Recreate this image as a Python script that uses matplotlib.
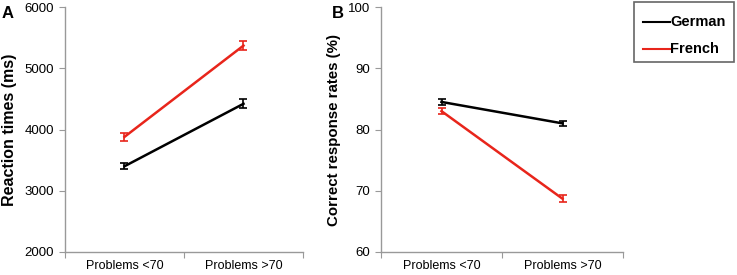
import matplotlib
matplotlib.use("Agg")
import matplotlib.pyplot as plt
from matplotlib.lines import Line2D
from matplotlib.patches import Rectangle

plt.rcParams['font.family'] = ['Liberation Sans', 'DejaVu Sans']

categories = ["Problems <70", "Problems >70"]
series_names = ["German", "French"]
colors = ["#000000", "#e8251b"]

rt_german = [3400, 4420]
rt_german_err = [50, 75]
rt_french = [3880, 5370]
rt_french_err = [60, 75]

acc_german = [84.5, 81.0]
acc_german_err = [0.5, 0.4]
acc_french = [83.0, 68.7]
acc_french_err = [0.5, 0.6]

fig = plt.figure(figsize=(7.37, 2.75), dpi=100)
W, H = 737, 275
axA = fig.add_axes([65/W, 1-252/H, (303-65)/W, (252-7)/H])
axB = fig.add_axes([381/W, 1-252/H, (623-381)/W, (252-7)/H])

xpos = [0.5, 1.5]

def style(ax, ylim, yticks, ylabel, lsize):
    ax.set_xlim(0, 2)
    ax.set_ylim(*ylim)
    ax.set_yticks(yticks)
    ax.set_xticks([0, 1, 2])
    ax.set_xticklabels([])
    ax.set_xticks(xpos, minor=True)
    ax.set_xticklabels(categories, minor=True, fontsize=9)
    ax.tick_params(axis='x', which='minor', length=0, pad=6)
    ax.tick_params(axis='x', which='major', length=4, color='#999999', direction='out')
    ax.tick_params(axis='y', length=4, color='#999999', labelsize=9.5, pad=4)
    for s in ['top', 'right']:
        ax.spines[s].set_visible(False)
    for s in ['left', 'bottom']:
        ax.spines[s].set_color('#999999')
        ax.spines[s].set_linewidth(1)
    ax.set_ylabel(ylabel, fontsize=lsize, fontweight='bold', labelpad=5)

for vals, errs, c in [(rt_german, rt_german_err, colors[0]),
                      (rt_french, rt_french_err, colors[1])]:
    axA.errorbar(xpos, vals, yerr=errs, color=c, lw=1.8, capsize=3, elinewidth=1.2, capthick=1.2)
for vals, errs, c in [(acc_german, acc_german_err, colors[0]),
                      (acc_french, acc_french_err, colors[1])]:
    axB.errorbar(xpos, vals, yerr=errs, color=c, lw=1.8, capsize=3, elinewidth=1.2, capthick=1.2)

style(axA, (2000, 6000), [2000, 3000, 4000, 5000, 6000], "Reaction times (ms)", 11.5)
style(axB, (60, 100), [60, 70, 80, 90, 100], "Correct response rates (%)", 10.8)

fig.text(2/W, 1-13/H, "A", fontsize=12, fontweight='bold', va='center', ha='left')
fig.text(332/W, 1-13/H, "B", fontsize=12, fontweight='bold', va='center', ha='left')

# legend box drawn in figure pixel coordinates
fig.add_artist(Rectangle((634/W, 1-62/H), (734-634)/W, 60/H, transform=fig.transFigure,
                         facecolor='white', edgecolor='#666666', lw=1.2))
for i, (name, c) in enumerate(zip(series_names, colors)):
    y = 1 - (22 + 27*i)/H
    fig.add_artist(Line2D([643/W, 670/W], [y, y], color=c, lw=1.5, transform=fig.transFigure))
    fig.text(670/W, y, name, fontsize=10.5, fontweight='bold', va='center', ha='left')

fig.savefig("out.png", dpi=100)
